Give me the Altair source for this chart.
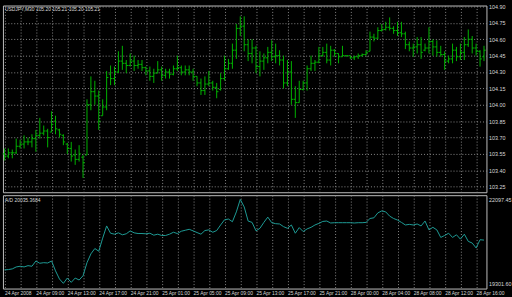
import json
import altair as alt
import pandas as pd

# ---------------- data ----------------
highs = [103.60,103.60,103.59,103.69,103.68,103.72,103.70,103.73,103.77,103.88,
         103.81,103.78,103.94,103.90,103.78,103.73,103.65,103.66,103.59,103.63,
         103.54,104.05,104.26,104.22,104.13,104.05,104.31,104.36,104.35,104.49,
         104.54,104.41,104.47,104.45,104.41,104.41,104.35,104.35,104.33,104.40,
         104.35,104.33,104.33,104.36,104.45,104.36,104.36,104.36,104.33,104.26,
         104.24,104.26,104.31,104.22,104.20,104.29,104.45,104.42,104.56,104.74,
         104.81,104.81,104.60,104.60,104.54,104.49,104.47,104.53,104.59,104.56,
         104.50,104.45,104.41,104.40,104.17,104.22,104.22,104.36,104.45,104.41,
         104.53,104.53,104.56,104.54,104.51,104.47,104.54,104.45,104.45,104.45,
         104.47,104.47,104.50,104.67,104.65,104.71,104.74,104.76,104.80,104.72,
         104.76,104.76,104.67,104.58,104.56,104.62,104.62,104.56,104.71,104.60,
         104.59,104.54,104.49,104.45,104.56,104.53,104.56,104.62,104.69,104.63,
         104.56,104.50,104.54]
lows = [103.49,103.51,103.51,103.55,103.60,103.60,103.63,103.61,103.57,103.69,
        103.72,103.61,103.75,103.73,103.70,103.63,103.55,103.48,103.45,103.48,
        103.33,103.54,103.95,104.00,103.77,103.90,103.95,104.18,104.18,104.29,
        104.32,104.29,104.35,104.31,104.33,104.31,104.27,104.22,104.20,104.29,
        104.22,104.24,104.24,104.27,104.31,104.27,104.27,104.27,104.22,104.17,
        104.09,104.09,104.17,104.13,104.06,104.13,104.22,104.32,104.33,104.42,
        104.63,104.49,104.40,104.38,104.29,104.26,104.32,104.38,104.40,104.38,
        104.36,104.15,104.17,104.00,103.88,104.02,104.13,104.13,104.31,104.31,
        104.38,104.44,104.38,104.36,104.44,104.38,104.44,104.44,104.42,104.41,
        104.42,104.44,104.45,104.49,104.58,104.60,104.67,104.68,104.68,104.65,
        104.63,104.62,104.51,104.49,104.44,104.47,104.42,104.49,104.47,104.45,
        104.44,104.44,104.32,104.38,104.38,104.40,104.41,104.41,104.53,104.47,
        104.45,104.35,104.40]
opens = [103.55,103.53,103.56,103.56,103.62,103.64,103.66,103.66,103.69,103.72,
         103.74,103.76,103.75,103.85,103.77,103.72,103.64,103.60,103.54,103.50,
         103.52,103.54,104.00,104.12,104.08,103.90,103.98,104.28,104.24,104.30,
         104.40,104.38,104.36,104.40,104.36,104.37,104.34,104.31,104.26,104.29,
         104.32,104.27,104.30,104.28,104.33,104.34,104.30,104.32,104.30,104.26,
         104.20,104.13,104.19,104.20,104.16,104.14,104.24,104.33,104.38,104.50,
         104.70,104.72,104.55,104.47,104.52,104.35,104.40,104.43,104.48,104.44,
         104.45,104.41,104.20,104.30,104.05,104.02,104.14,104.20,104.33,104.38,
         104.39,104.45,104.48,104.41,104.50,104.47,104.44,104.45,104.45,104.43,
         104.44,104.45,104.46,104.49,104.62,104.61,104.68,104.69,104.71,104.70,
         104.68,104.66,104.65,104.55,104.52,104.53,104.55,104.50,104.52,104.58,
         104.53,104.48,104.46,104.40,104.42,104.50,104.44,104.48,104.55,104.60,
         104.52,104.49,104.44]
closes = [103.53,103.56,103.56,103.62,103.64,103.66,103.66,103.69,103.72,103.74,
          103.76,103.70,103.82,103.78,103.73,103.66,103.60,103.53,103.50,103.55,
          103.47,104.00,104.12,104.08,103.85,103.98,104.25,104.24,104.30,104.40,
          104.38,104.36,104.40,104.36,104.37,104.34,104.31,104.26,104.29,104.32,
          104.27,104.30,104.28,104.33,104.34,104.30,104.32,104.30,104.26,104.20,
          104.13,104.19,104.20,104.16,104.12,104.24,104.33,104.38,104.50,104.70,
          104.72,104.55,104.47,104.52,104.35,104.40,104.43,104.48,104.44,104.45,
          104.41,104.20,104.30,104.05,104.02,104.14,104.20,104.33,104.38,104.39,
          104.45,104.48,104.41,104.50,104.47,104.44,104.45,104.45,104.43,104.44,
          104.45,104.46,104.48,104.62,104.61,104.68,104.69,104.71,104.70,104.68,
          104.66,104.65,104.55,104.52,104.53,104.55,104.48,104.52,104.58,104.53,
          104.48,104.46,104.40,104.42,104.50,104.44,104.48,104.55,104.60,104.52,
          104.49,104.42,104.50]
ad_values = [19750,19760,19783,19848,19871,19848,19891,19871,20045,19970,
             19990,19980,20045,19717,19446,19302,19478,19334,19478,19413,
             19554,19990,20284,20461,20372,20808,21214,20971,20939,20984,
             20919,20952,21050,20984,20961,20961,20952,20971,20906,20939,
             20896,20896,20939,21004,20961,21037,21070,21102,21050,20994,
             20939,21060,21083,21004,21060,21246,21420,21443,21354,21682,
             22097,21846,21377,21332,21050,21135,21332,21508,21322,21289,
             21279,21191,21135,21246,20971,21158,21027,21115,21168,21246,
             21299,21364,21377,21312,21322,21322,21322,21322,21322,21312,
             21322,21322,21332,21462,21485,21649,21715,21682,21541,21462,
             21410,21332,21246,21266,21246,21279,21214,21377,21083,21168,
             21083,20831,20896,20971,20831,20919,20775,20939,20700,20644,
             20480,20755,20742]
x_labels = ["24 Apr 2008", "24 Apr 09:00", "24 Apr 13:00", "24 Apr 17:00",
            "24 Apr 21:00", "25 Apr 01:00", "25 Apr 05:00", "25 Apr 09:00",
            "25 Apr 13:00", "25 Apr 17:00", "25 Apr 21:00", "28 Apr 00:00",
            "28 Apr 04:00", "28 Apr 08:00", "28 Apr 12:00", "28 Apr 16:00"]
price_ticks = [104.90, 104.75, 104.60, 104.45, 104.30, 104.15, 104.00,
               103.85, 103.70, 103.55, 103.40, 103.25]
ad_ticks = [22097.45, 19301.60]
main_title = "USDJPY,M30  105.20 105.21 105.20 105.21"
ind_title = "A/D 20035.3684"

# ---------------- build ----------------
n = len(highs)
df = pd.DataFrame({"i": list(range(n)), "high": highs, "low": lows,
                   "open": opens, "close": closes, "ad": ad_values})
df["o1"] = df["i"] - 0.45
df["c2"] = df["i"] + 0.45

GREEN = "#00b400"
TEAL = "#1f9c96"
GRID = "#8a8a8a"
TXT = "#d8d8d8"
BORDER = "#c0c0c0"
FONT = "Liberation Sans"

W = 492
xscale = alt.Scale(domain=[-0.375, 122.625], nice=False, zero=False)
yscale = alt.Scale(domain=[103.199, 104.909], nice=False, zero=False)
adscale = alt.Scale(domain=[19128, 22238], nice=False, zero=False)
grid_vals = list(range(0, n, 4))

label_arr = json.dumps(x_labels)
label_expr = f"datum.value % 8 == 0 ? {label_arr}[datum.value / 8] : ''"

ax_x_top = alt.Axis(values=grid_vals, grid=True, gridColor=GRID, gridDash=[1, 2],
                    gridWidth=1, labels=False, ticks=False, domain=False, title=None)
ax_y_top = alt.Axis(orient="right", values=price_ticks, format=".2f", grid=True,
                    gridColor=GRID, gridDash=[1, 2], gridWidth=1, ticks=False,
                    domain=False, labelColor=TXT, labelFontSize=5.5, labelFont=FONT,
                    labelPadding=2, labelBaseline="middle", labelOverlap=False,
                    labelFlush=False, title=None)
ax_x_bot = alt.Axis(values=grid_vals, grid=True, gridColor=GRID, gridDash=[1, 2],
                    gridWidth=1, ticks=False, domain=False, labelExpr=label_expr,
                    labelAlign="left", labelBaseline="top", labelPadding=2,
                    labelColor=TXT, labelFontSize=5, labelFont=FONT,
                    labelOverlap=False, labelFlush=False, labelBound=False, title=None)
ax_y_bot = alt.Axis(orient="right", values=ad_ticks, format=".2f", grid=False,
                    ticks=False, domain=False, labelColor=TXT, labelFontSize=5.5,
                    labelFont=FONT, labelPadding=2, labelOverlap=False,
                    labelFlush=False, title=None)

base = alt.Chart(df)
hl = base.mark_rule(color=GREEN, strokeWidth=1).encode(
    x=alt.X("i:Q", scale=xscale, axis=ax_x_top),
    y=alt.Y("low:Q", scale=yscale, axis=ax_y_top),
    y2="high:Q")
op = base.mark_rule(color=GREEN, strokeWidth=1).encode(
    x=alt.X("o1:Q", scale=xscale, axis=ax_x_top), x2="i:Q",
    y=alt.Y("open:Q", scale=yscale, axis=ax_y_top))
cl = base.mark_rule(color=GREEN, strokeWidth=1).encode(
    x=alt.X("i:Q", scale=xscale, axis=ax_x_top), x2="c2:Q",
    y=alt.Y("close:Q", scale=yscale, axis=ax_y_top))
t1 = alt.Chart(pd.DataFrame({"t": [main_title]})).mark_text(
    align="left", baseline="middle", color=TXT, fontSize=5, font=FONT).encode(
    x=alt.value(2), y=alt.value(4), text="t:N")
top = alt.layer(hl, op, cl, t1).properties(width=W, height=190)

line = base.mark_line(color=TEAL, strokeWidth=1).encode(
    x=alt.X("i:Q", scale=xscale, axis=ax_x_bot),
    y=alt.Y("ad:Q", scale=adscale, axis=ax_y_bot))
t2 = alt.Chart(pd.DataFrame({"t": [ind_title]})).mark_text(
    align="left", baseline="middle", color=TXT, fontSize=5, font=FONT).encode(
    x=alt.value(2), y=alt.value(5), text="t:N")
bottom = alt.layer(line, t2).properties(width=W, height=95)

chart = alt.vconcat(top, bottom, spacing=1).properties(
    background="black",
    padding={"left": 1, "top": 1, "right": 0, "bottom": 0},
).configure_view(stroke=BORDER, strokeWidth=1)

chart.save("out.html", embed_options={"renderer": "svg", "actions": False})
